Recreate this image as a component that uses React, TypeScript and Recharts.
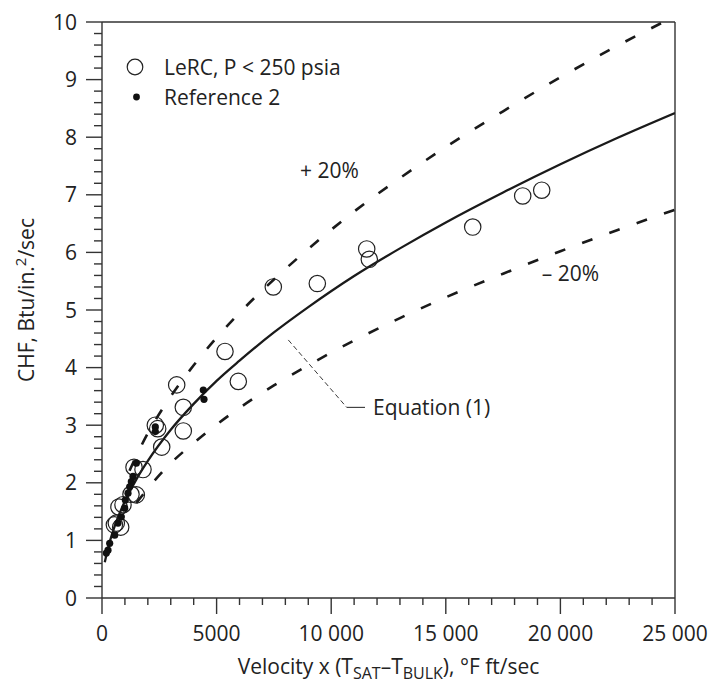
import React from 'react';
import {
  ComposedChart,
  XAxis,
  YAxis,
  Line,
  Scatter,
  ReferenceLine,
  ReferenceDot,
  Legend,
} from 'recharts';

const FONT = '"Open Sans", "Liberation Sans", Arial, sans-serif';
const INK = '#222';
const AXIS = '#333';

// ---- tick labels ----
const xMajorTicks = [0, 5000, 10000, 15000, 20000, 25000];
const xTickLabels = ['0', '5000', '10 000', '15 000', '20 000', '25 000'];
const xAllTicks = Array.from({ length: 26 }, (_, i) => i * 1000);
const yMajorTicks = [0, 1, 2, 3, 4, 5, 6, 7, 8, 9, 10];
const yTickLabels = ['0', '1', '2', '3', '4', '5', '6', '7', '8', '9', '10'];
const yAllTicks = Array.from({ length: 51 }, (_, i) => Math.round(i * 2) / 10);

// ---- Equation (1) curve ----
const eqX = [120, 300, 600, 1000, 1500, 2000, 3000, 4000, 5000, 6000, 7500, 9000, 11000, 13000, 15000, 17500, 20000, 22500, 25000];
const eqY = [0.62, 0.92, 1.3, 1.68, 2.06, 2.38, 2.92, 3.37, 3.77, 4.12, 4.61, 5.05, 5.59, 6.07, 6.52, 7.04, 7.53, 7.99, 8.42];

// ---- +20 % band ----
const upX = [1200, 1500, 2000, 3000, 4000, 5000, 6000, 7500, 9000, 11000, 13000, 15000, 17500, 20000, 22500, 24500];
const upY = [2.21, 2.47, 2.86, 3.5, 4.04, 4.52, 4.95, 5.53, 6.06, 6.71, 7.29, 7.83, 8.45, 9.04, 9.59, 10.0];

// ---- -20 % band ----
const loX = [1500, 2000, 3000, 4000, 5000, 6000, 7500, 9000, 11000, 13000, 15000, 17500, 20000, 22500, 25000];
const loY = [1.65, 1.9, 2.34, 2.69, 3.01, 3.3, 3.69, 4.04, 4.47, 4.86, 5.22, 5.63, 6.02, 6.39, 6.74];

// ---- LeRC, P < 250 psia (open circles) ----
const lercX = [19185, 18355, 16174, 11662, 11549, 9394, 7474, 5366, 5947, 3259, 3547, 3547, 2605, 2326, 2430, 1789, 1396, 1497, 1265, 916, 740, 625, 815, 540];
const lercY = [7.08, 6.98, 6.44, 5.88, 6.06, 5.46, 5.4, 4.28, 3.76, 3.7, 3.31, 2.9, 2.62, 3.0, 2.94, 2.23, 2.27, 1.79, 1.8, 1.62, 1.58, 1.3, 1.23, 1.27];

// ---- Reference 2 (filled dots) ----
const refX = [4420, 4450, 2326, 2326, 1497, 1352, 1280, 1207, 1134, 1018, 990, 843, 698, 553, 335, 262, 189];
const refY = [3.61, 3.45, 2.97, 2.89, 2.34, 2.11, 2.02, 1.93, 1.82, 1.7, 1.56, 1.41, 1.3, 1.09, 0.95, 0.83, 0.78];

// ---- annotations (data coordinates) ----
const noteText = ['+ 20%', '\u2013 20%', 'Equation (1)'];
const noteX = [8639, 19185, 11824];
const noteY = [7.43, 5.64, 3.31];
const leaderX = [8128, 10676, 11475];
const leaderY = [4.48, 3.31, 3.31];

const legendNames = ['LeRC, P < 250 psia', 'Reference 2'];

const zip = (xs: number[], ys: number[]) => xs.map((x, i) => ({ x, y: ys[i] }));
const eqData = zip(eqX, eqY);
const upData = zip(upX, upY);
const loData = zip(loX, loY);
const lercData = zip(lercX, lercY);
const refData = zip(refX, refY);

const XTick = (props: any) => {
  const { x, y, payload } = props;
  const v = payload.value;
  const idx = xMajorTicks.indexOf(v);
  const major = idx >= 0;
  return (
    <g>
      <line x1={x} y1={y} x2={x} y2={y + (major ? 16 : 7)} stroke={AXIS} strokeWidth={1.4} />
      {major && (
        <text x={x} y={y + 43} textAnchor="middle" fontFamily={FONT} fontSize={21} fill={INK}>
          {xTickLabels[idx]}
        </text>
      )}
    </g>
  );
};

const YTick = (props: any) => {
  const { x, y, payload } = props;
  const v = payload.value;
  const idx = yMajorTicks.indexOf(v);
  const major = idx >= 0;
  return (
    <g>
      <line x1={x} y1={y} x2={x - (major ? 16 : 8)} y2={y} stroke={AXIS} strokeWidth={1.4} />
      {major && (
        <text x={x - 25} y={y} dy="0.36em" textAnchor="end" fontFamily={FONT} fontSize={21} fill={INK}>
          {yTickLabels[idx]}
        </text>
      )}
    </g>
  );
};

const XLabel = (props: any) => {
  const { x, y, width } = props.viewBox;
  return (
    <text x={x + width / 2} y={y + 76} textAnchor="middle" fontFamily={FONT} fontSize={21} fill={INK}>
      <tspan>Velocity x (T</tspan>
      <tspan fontSize={16} dy={5}>SAT</tspan>
      <tspan dy={-5}>{'\u2013T'}</tspan>
      <tspan fontSize={16} dy={5}>BULK</tspan>
      <tspan dy={-5}>{'), \u00B0F ft/sec'}</tspan>
    </text>
  );
};

const YLabel = (props: any) => {
  const { y, height } = props.viewBox;
  const cx = 26;
  const cy = y + height / 2 - 10;
  return (
    <text
      x={cx}
      y={cy}
      transform={`rotate(-90 ${cx} ${cy})`}
      textAnchor="middle"
      dy="0.36em"
      fontFamily={FONT}
      fontSize={21}
      fill={INK}
    >
      <tspan>CHF, Btu/in.</tspan>
      <tspan fontSize={15} dy={-8}>2</tspan>
      <tspan dy={8}>/sec</tspan>
    </text>
  );
};

const LegendBox = () => (
  <div style={{ fontFamily: FONT, fontSize: 21, color: INK, lineHeight: '30px' }}>
    {legendNames.map((name, i) => (
      <div key={name} style={{ display: 'flex', alignItems: 'center', height: 30 }}>
        <svg width={22} height={22} style={{ display: 'block' }}>
          {i === 0 ? (
            <circle cx={11} cy={11} r={7.8} fill="none" stroke={INK} strokeWidth={1.2} />
          ) : (
            <circle cx={12.5} cy={11} r={3.4} fill="#111" />
          )}
        </svg>
        <span style={{ marginLeft: 18, whiteSpace: 'nowrap' }}>{name}</span>
      </div>
    ))}
  </div>
);

const OpenCircle = (p: any) => (
  <circle cx={p.cx} cy={p.cy} r={8.2} fill="none" stroke={INK} strokeWidth={1.2} />
);
const FilledDot = (p: any) => <circle cx={p.cx} cy={p.cy} r={3.6} fill="#111" />;

const NoteText = (text: string) => (p: any) => (
  <text x={p.cx} y={p.cy} dy="0.36em" textAnchor="start" fontFamily={FONT} fontSize={21} fill={INK}>
    {text}
  </text>
);

export default function App() {
  return (
    <div style={{ position: 'absolute', left: 0, top: 0, background: '#fff' }}>
      <ComposedChart width={715} height={685} margin={{ top: 22, right: 40, bottom: 0, left: 0 }}>
        <XAxis
          dataKey="x"
          type="number"
          domain={[0, 25000]}
          ticks={xAllTicks}
          interval={0}
          allowDataOverflow
          height={87}
          tickSize={0}
          tickMargin={0}
          tickLine={false}
          axisLine={{ stroke: AXIS, strokeWidth: 1.4 }}
          tick={<XTick />}
          label={{ content: <XLabel /> } as any}
        />
        <YAxis
          dataKey="y"
          type="number"
          domain={[0, 10]}
          ticks={yAllTicks}
          interval={0}
          allowDataOverflow
          width={102}
          tickSize={0}
          tickMargin={0}
          tickLine={false}
          axisLine={{ stroke: AXIS, strokeWidth: 1.4 }}
          tick={<YTick />}
          label={{ content: <YLabel /> } as any}
        />
        <ReferenceLine y={10} stroke={AXIS} strokeWidth={1.4} />
        <ReferenceLine x={25000} stroke={AXIS} strokeWidth={1.4} />

        <Line
          data={upData}
          dataKey="y"
          type="monotone"
          stroke="#1a1a1a"
          strokeWidth={2.6}
          strokeDasharray="11 18"
          dot={false}
          activeDot={false}
          isAnimationActive={false}
          legendType="none"
        />
        <Line
          data={loData}
          dataKey="y"
          type="monotone"
          stroke="#1a1a1a"
          strokeWidth={2.6}
          strokeDasharray="11 18"
          dot={false}
          activeDot={false}
          isAnimationActive={false}
          legendType="none"
        />
        <Line
          data={eqData}
          dataKey="y"
          type="monotone"
          stroke="#1a1a1a"
          strokeWidth={2.3}
          dot={false}
          activeDot={false}
          isAnimationActive={false}
          legendType="none"
        />
        <Scatter name={legendNames[0]} data={lercData} dataKey="y" shape={OpenCircle} isAnimationActive={false} />
        <Scatter name={legendNames[1]} data={refData} dataKey="y" shape={FilledDot} isAnimationActive={false} />

        <ReferenceLine
          segment={[{ x: leaderX[0], y: leaderY[0] }, { x: leaderX[1], y: leaderY[1] }]}
          stroke={INK}
          strokeWidth={0.9}
          strokeDasharray="5 3"
        />
        <ReferenceLine
          segment={[{ x: leaderX[1], y: leaderY[1] }, { x: leaderX[2], y: leaderY[2] }]}
          stroke={INK}
          strokeWidth={1}
        />
        {noteText.map((t, i) => (
          <ReferenceDot key={t} x={noteX[i]} y={noteY[i]} r={0} shape={NoteText(t)} />
        ))}

        <Legend
          layout="vertical"
          align="center"
          verticalAlign="middle"
          wrapperStyle={{ position: 'absolute', top: 52, left: 124, width: 'auto', height: 'auto' }}
          content={() => <LegendBox />}
        />
      </ComposedChart>
    </div>
  );
}
